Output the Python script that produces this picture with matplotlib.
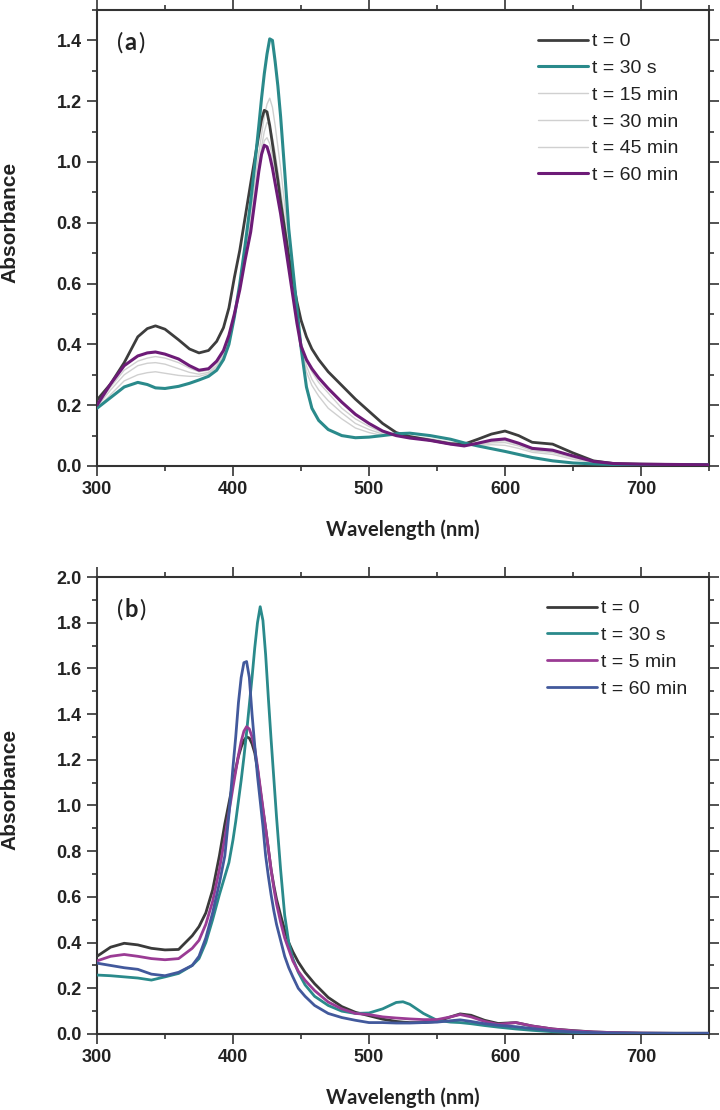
import numpy as np
import matplotlib
matplotlib.use("Agg")
import matplotlib.pyplot as plt
from matplotlib.ticker import MultipleLocator
from matplotlib.offsetbox import TextArea, HPacker, AnchoredOffsetbox

# ---- panel (a) data: absorbance vs wavelength (nm)
wl_a = [300, 310, 320, 330, 337, 343, 350, 360, 368, 375, 382, 388, 393, 397, 401,
        405, 409, 413, 416, 419, 421, 423, 425, 427, 429, 431, 433, 435, 438, 441,
        444, 447, 450, 454, 458, 463, 470, 480, 490, 500, 510, 520, 530, 545, 560,
        570, 580, 590, 600, 610, 620, 635, 650, 665, 680, 700, 725, 750]

a_t0 = [0.217, 0.27, 0.34, 0.425, 0.452, 0.461, 0.45, 0.415, 0.385, 0.372, 0.38, 0.41, 0.455, 0.52, 0.62,
        0.71, 0.82, 0.93, 1.01, 1.09, 1.14, 1.17, 1.165, 1.12, 1.06, 1.00, 0.94, 0.87, 0.78, 0.69,
        0.61, 0.54, 0.48, 0.425, 0.385, 0.35, 0.31, 0.265, 0.22, 0.18, 0.14, 0.11, 0.097, 0.085, 0.073,
        0.072, 0.088, 0.105, 0.115, 0.10, 0.078, 0.072, 0.043, 0.017, 0.008, 0.006, 0.005, 0.004]

a_t30s = [0.19, 0.225, 0.26, 0.275, 0.268, 0.257, 0.255, 0.262, 0.272, 0.283, 0.295, 0.315, 0.35, 0.40, 0.49,
          0.60, 0.73, 0.87, 0.99, 1.12, 1.21, 1.29, 1.355, 1.405, 1.40, 1.33, 1.25, 1.15, 0.97, 0.78,
          0.65, 0.52, 0.39, 0.26, 0.19, 0.15, 0.12, 0.10, 0.093, 0.095, 0.10, 0.106, 0.108, 0.10, 0.088,
          0.076, 0.066, 0.057, 0.048, 0.038, 0.028, 0.017, 0.01, 0.007, 0.005, 0.005, 0.004, 0.004]

a_t15 = [0.19, 0.235, 0.28, 0.30, 0.307, 0.31, 0.305, 0.298, 0.295, 0.295, 0.303, 0.325, 0.36, 0.41, 0.49,
         0.59, 0.70, 0.83, 0.93, 1.03, 1.09, 1.15, 1.19, 1.21, 1.18, 1.12, 1.05, 0.98, 0.86, 0.74,
         0.62, 0.50, 0.40, 0.31, 0.265, 0.23, 0.19, 0.155, 0.125, 0.11, 0.10, 0.10, 0.098, 0.09, 0.078,
         0.07, 0.068, 0.07, 0.068, 0.058, 0.045, 0.038, 0.022, 0.012, 0.007, 0.005, 0.005, 0.004]

a_t30 = [0.195, 0.25, 0.30, 0.33, 0.338, 0.34, 0.335, 0.32, 0.308, 0.302, 0.308, 0.33, 0.365, 0.415, 0.49,
         0.585, 0.69, 0.80, 0.90, 0.99, 1.05, 1.10, 1.13, 1.12, 1.08, 1.03, 0.97, 0.91, 0.81, 0.71,
         0.60, 0.50, 0.41, 0.33, 0.285, 0.25, 0.215, 0.175, 0.14, 0.12, 0.105, 0.10, 0.095, 0.087, 0.075,
         0.068, 0.07, 0.076, 0.077, 0.066, 0.05, 0.044, 0.027, 0.013, 0.007, 0.005, 0.005, 0.004]

a_t45 = [0.20, 0.26, 0.315, 0.345, 0.355, 0.36, 0.355, 0.34, 0.322, 0.31, 0.315, 0.338, 0.372, 0.42, 0.49,
         0.58, 0.68, 0.78, 0.88, 0.97, 1.03, 1.07, 1.08, 1.06, 1.02, 0.97, 0.92, 0.86, 0.77, 0.68,
         0.585, 0.49, 0.405, 0.345, 0.31, 0.275, 0.24, 0.19, 0.155, 0.13, 0.11, 0.10, 0.093, 0.085, 0.073,
         0.067, 0.072, 0.08, 0.083, 0.07, 0.054, 0.048, 0.03, 0.014, 0.008, 0.006, 0.005, 0.004]

a_t60 = [0.20, 0.27, 0.33, 0.362, 0.372, 0.375, 0.368, 0.352, 0.33, 0.315, 0.32, 0.345, 0.38, 0.43, 0.50,
         0.58, 0.68, 0.77, 0.87, 0.97, 1.025, 1.055, 1.05, 1.02, 0.98, 0.93, 0.88, 0.83, 0.74, 0.65,
         0.56, 0.47, 0.395, 0.35, 0.32, 0.29, 0.255, 0.21, 0.17, 0.14, 0.115, 0.10, 0.092, 0.084, 0.072,
         0.066, 0.075, 0.085, 0.089, 0.075, 0.058, 0.052, 0.033, 0.015, 0.008, 0.006, 0.005, 0.004]

# ---- panel (b) data
wl_b = [300, 310, 320, 330, 340, 350, 360, 370, 375, 380, 385, 390, 394, 397, 400,
        402, 404, 406, 408, 410, 412, 414, 416, 418, 420, 422, 424, 426, 428, 430,
        432, 435, 438, 441, 444, 448, 453, 460, 470, 480, 490, 500, 510, 520, 525,
        530, 540, 550, 560, 567, 575, 585, 595, 608, 620, 635, 650, 665, 680, 700,
        725, 750]

b_t0 = [0.34, 0.38, 0.397, 0.39, 0.375, 0.368, 0.37, 0.43, 0.47, 0.53, 0.63, 0.78, 0.92, 1.01, 1.10,
        1.16, 1.215, 1.255, 1.285, 1.30, 1.295, 1.27, 1.23, 1.16, 1.07, 0.98, 0.90, 0.81, 0.72, 0.65,
        0.59, 0.52, 0.455, 0.40, 0.36, 0.315, 0.27, 0.22, 0.16, 0.12, 0.095, 0.08, 0.065, 0.055, 0.052,
        0.05, 0.05, 0.055, 0.075, 0.088, 0.082, 0.06, 0.046, 0.05, 0.035, 0.022, 0.015, 0.009, 0.006, 0.004,
        0.003, 0.003]

b_t30s = [0.258, 0.255, 0.25, 0.245, 0.236, 0.25, 0.265, 0.30, 0.33, 0.40, 0.50, 0.61, 0.69, 0.75, 0.85,
          0.93, 1.02, 1.11, 1.21, 1.32, 1.44, 1.56, 1.69, 1.80, 1.87, 1.81, 1.66, 1.47, 1.29, 1.12,
          0.95, 0.72, 0.52, 0.40, 0.33, 0.27, 0.215, 0.165, 0.125, 0.10, 0.09, 0.092, 0.11, 0.138, 0.141,
          0.13, 0.09, 0.06, 0.052, 0.05, 0.045, 0.037, 0.03, 0.022, 0.016, 0.01, 0.007, 0.005, 0.004, 0.003,
          0.003, 0.003]

b_t5 = [0.32, 0.34, 0.348, 0.34, 0.33, 0.325, 0.33, 0.375, 0.41, 0.48, 0.58, 0.72, 0.86, 0.97, 1.08,
        1.15, 1.22, 1.28, 1.325, 1.345, 1.335, 1.30, 1.25, 1.17, 1.08, 0.99, 0.90, 0.81, 0.72, 0.64,
        0.57, 0.49, 0.42, 0.37, 0.32, 0.275, 0.235, 0.19, 0.14, 0.11, 0.09, 0.085, 0.075, 0.07, 0.068,
        0.066, 0.063, 0.063, 0.075, 0.085, 0.075, 0.055, 0.042, 0.05, 0.035, 0.022, 0.014, 0.009, 0.006, 0.004,
        0.003, 0.003]

b_t60 = [0.31, 0.30, 0.29, 0.283, 0.262, 0.255, 0.27, 0.30, 0.34, 0.42, 0.53, 0.66, 0.78, 0.96, 1.17,
         1.30, 1.45, 1.56, 1.625, 1.63, 1.56, 1.40, 1.26, 1.13, 1.02, 0.91, 0.78, 0.69, 0.61, 0.54,
         0.48, 0.41, 0.34, 0.29, 0.25, 0.20, 0.165, 0.125, 0.09, 0.072, 0.06, 0.05, 0.05, 0.048, 0.048,
         0.048, 0.05, 0.052, 0.058, 0.062, 0.055, 0.045, 0.038, 0.032, 0.024, 0.014, 0.009, 0.006, 0.004, 0.003,
         0.003, 0.003]

labels_a = ["t = 0", "t = 30 s", "t = 15 min", "t = 30 min", "t = 45 min", "t = 60 min"]
labels_b = ["t = 0", "t = 30 s", "t = 5 min", "t = 60 min"]

TICK_FONT = "Liberation Sans"
XLAB_FONT = "Lato"
spine_c = "#333333"
txt_c = "#222222"


def style_axes(ax, ymax, ymajor):
    ax.set_xlim(300, 750)
    ax.set_ylim(0, ymax)
    ax.xaxis.set_major_locator(MultipleLocator(100))
    ax.xaxis.set_minor_locator(MultipleLocator(50))
    ax.yaxis.set_major_locator(MultipleLocator(ymajor))
    ax.yaxis.set_minor_locator(MultipleLocator(ymajor / 2))
    ax.tick_params(which="both", direction="out", top=True, right=True,
                   labeltop=False, labelright=False, color=spine_c, width=1.2)
    ax.tick_params(which="major", length=7)
    ax.tick_params(which="minor", length=3.5)
    ax.tick_params(axis="x", pad=4)
    ax.tick_params(axis="y", pad=4)
    for lab in ax.get_xticklabels() + ax.get_yticklabels():
        lab.set_fontfamily(TICK_FONT)
        lab.set_fontweight("bold")
        lab.set_fontsize(13)
        lab.set_color(txt_c)
    for sp in ax.spines.values():
        sp.set_linewidth(1.5)
        sp.set_color(spine_c)
    ax.set_ylabel("Absorbance", family=TICK_FONT, fontweight="bold", fontsize=15, color=txt_c)
    ax.set_xlabel("Wavelength (nm)", family=XLAB_FONT, fontweight="bold", fontsize=14.5, color=txt_c, labelpad=15)
    ax.yaxis.set_label_coords(-0.127, 0.535)


def panel_tag(ax, letter):
    parts = [TextArea("(", textprops=dict(family=XLAB_FONT, fontsize=17, color=txt_c)),
             TextArea(letter, textprops=dict(family=XLAB_FONT, fontsize=17, fontweight="bold", color=txt_c)),
             TextArea(")", textprops=dict(family=XLAB_FONT, fontsize=17, color=txt_c))]
    box = HPacker(children=parts, align="baseline", pad=0, sep=1)
    anc = AnchoredOffsetbox(loc="upper left", child=box, frameon=False, pad=0,
                            bbox_to_anchor=(0.033, 0.955), bbox_transform=ax.transAxes, borderpad=0)
    ax.add_artist(anc)


def add_legend(ax, x0, y0):
    ax.legend(loc="upper left", bbox_to_anchor=(x0, y0), frameon=False,
              prop=dict(family=TICK_FONT, size=14), handlelength=2.6, handletextpad=0.2,
              labelspacing=0.47, borderpad=0, borderaxespad=0, labelcolor=txt_c)


fig = plt.figure(figsize=(7.2, 11.1), dpi=100)
ax1 = fig.add_axes([97 / 720, 1 - 466 / 1110, 612 / 720, 456 / 1110])
ax2 = fig.add_axes([97 / 720, 1 - 1034 / 1110, 612 / 720, 457 / 1110])
kw = dict(solid_joinstyle="round", solid_capstyle="round")

# (a)
ax1.plot(wl_a, a_t0, color="#3d3d3d", lw=2.0, label=labels_a[0], zorder=3, **kw)
ax1.plot(wl_a, a_t30s, color="#2a8a8b", lw=2.2, label=labels_a[1], zorder=3, **kw)
ax1.plot(wl_a, a_t15, color="#d0d0d0", lw=1.0, label=labels_a[2], zorder=2, **kw)
ax1.plot(wl_a, a_t30, color="#d0d0d0", lw=1.0, label=labels_a[3], zorder=2, **kw)
ax1.plot(wl_a, a_t45, color="#d0d0d0", lw=1.0, label=labels_a[4], zorder=2, **kw)
ax1.plot(wl_a, a_t60, color="#6d1b77", lw=2.2, label=labels_a[5], zorder=4, **kw)
style_axes(ax1, 1.5, 0.2)
panel_tag(ax1, "a")
add_legend(ax1, 0.72, 0.95)

# (b)
ax2.plot(wl_b, b_t0, color="#3a3a3a", lw=2.0, label=labels_b[0], zorder=3, **kw)
ax2.plot(wl_b, b_t30s, color="#2a8a8b", lw=2.0, label=labels_b[1], zorder=3, **kw)
ax2.plot(wl_b, b_t5, color="#9a3b94", lw=2.0, label=labels_b[2], zorder=3, **kw)
ax2.plot(wl_b, b_t60, color="#42599c", lw=2.0, label=labels_b[3], zorder=3, **kw)
style_axes(ax2, 2.0, 0.2)
panel_tag(ax2, "b")
add_legend(ax2, 0.735, 0.95)

fig.savefig("out.png", dpi=100, facecolor="white")
